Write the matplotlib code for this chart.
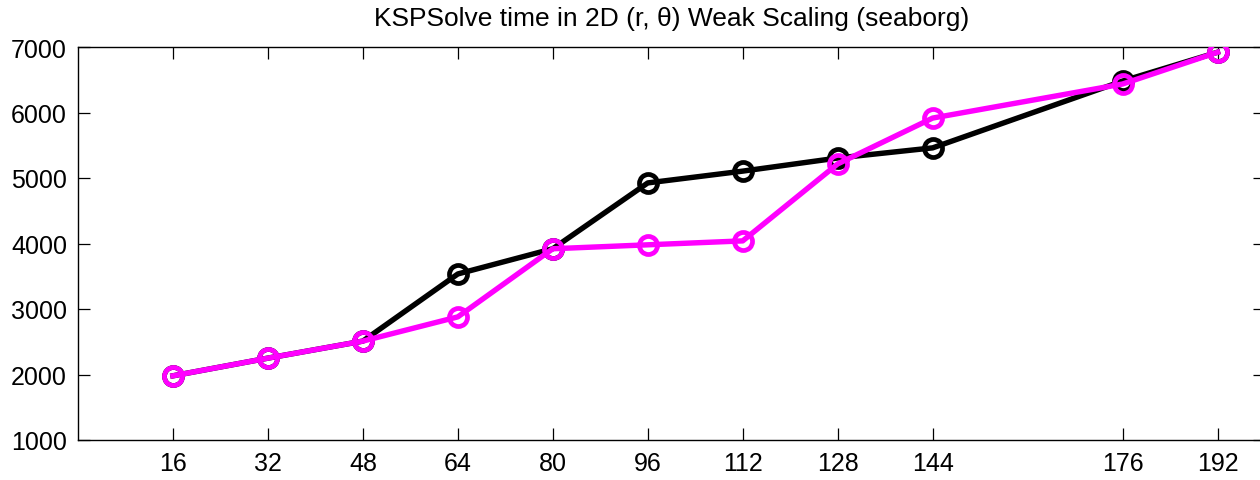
import matplotlib
matplotlib.use("Agg")
import matplotlib.pyplot as plt

# Processor counts and KSPSolve times for the two runs
procs = [16, 32, 48, 64, 80, 96, 112, 128, 144, 176, 192]
time_black = [1980, 2250, 2510, 3535, 3920, 4925, 5105, 5305, 5460, 6480, 6920]
time_magenta = [1980, 2250, 2510, 2880, 3920, 3980, 4040, 5215, 5915, 6435, 6920]
yticks = [1000, 2000, 3000, 4000, 5000, 6000, 7000]

plt.rcParams["font.family"] = ["Liberation Sans", "DejaVu Sans"]

W, H = 1260, 481
fig = plt.figure(figsize=(W / 100, H / 100), dpi=100)
ax = fig.add_axes([78 / W, (H - 441) / H, (1265 - 78) / W, 393 / H])

ax.plot(procs, time_black, color="black", lw=3.9, marker="o", ms=13,
        mfc="none", mec="black", mew=3.4, zorder=3)
ax.plot(procs, time_magenta, color="#ff00ff", lw=3.9, marker="o", ms=13,
        mfc="none", mec="#ff00ff", mew=3.4, zorder=4)

ax.set_xlim(0, 200)
ax.set_ylim(1000, 7000)
ax.set_xticks(procs)
ax.set_yticks(yticks)
ax.tick_params(direction="in", length=8.5, width=0.9, top=True, right=True,
               labelsize=18, pad=8)
for s in ax.spines.values():
    s.set_linewidth(1.0)

ax.set_title("KSPSolve time in 2D (r, θ) Weak Scaling (seaborg)",
             fontsize=19, pad=16)

fig.savefig("out.png", dpi=100)
